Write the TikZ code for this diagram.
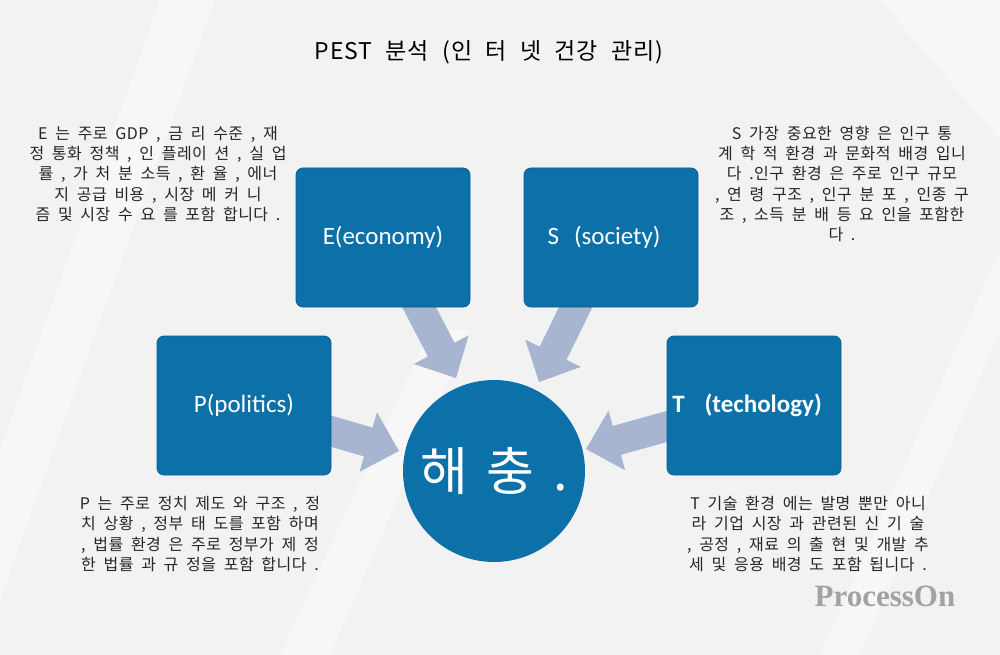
\documentclass[tikz,border=0pt]{standalone}
\usepackage{fontspec}
\setmainfont{Noto Sans CJK KR}
\newfontfamily\krfont[WordSpace=1.9,LetterSpace=3]{Noto Sans CJK KR}
\newfontfamily\titlefont[WordSpace=2.2,LetterSpace=4]{Noto Sans CJK KR}
\newfontfamily\hubfont[WordSpace=1.6]{Noto Sans CJK KR}
\newfontfamily\labfont{Carlito}
\newfontfamily\wmfont{Liberation Serif}
\usetikzlibrary{calc}
\definecolor{bgcol}{HTML}{F2F2F3}
\definecolor{boxblue}{HTML}{0C71A8}
\definecolor{boxedge}{HTML}{0A5E8E}
\definecolor{arrowcol}{HTML}{A8B5D1}
\definecolor{textcol}{HTML}{262626}
\definecolor{wmcol}{HTML}{A2A2A2}
\newcommand\blockarrow[2]{%
  \fill[arrowcol] let \p1=(#1), \p2=(#2), \n1={atan2(\y2-\y1,\x2-\x1)} in
    (\p2)
    -- ($(\p2)+(\n1+180:32pt)+(\n1+90:31pt)$)
    -- ($(\p2)+(\n1+180:32pt)+(\n1+90:15pt)$)
    -- ($(\p1)+(\n1+90:15pt)$)
    -- ($(\p1)+(\n1-90:15pt)$)
    -- ($(\p2)+(\n1+180:32pt)+(\n1-90:15pt)$)
    -- ($(\p2)+(\n1+180:32pt)+(\n1-90:31pt)$)
    -- cycle;}
\begin{document}
\begin{tikzpicture}[x=1pt,y=-1pt,
  pbox/.style={draw=boxedge, line width=0.8pt, fill=boxblue, rounded corners=7pt,
    minimum width=174pt, minimum height=139pt, inner sep=0pt, text=white,
    font=\labfont\fontsize{25}{30}\selectfont},
  hub/.style={circle, fill=boxblue, minimum size=182pt, inner sep=0pt, text=white,
    font=\hubfont\fontsize{52}{60}\selectfont},
  desc/.style={align=center, text=textcol, inner sep=0pt,
    font=\krfont\fontsize{16}{20.3}\selectfont},
  band/.style={fill=white, opacity=0.45}]
\useasboundingbox (0,0) rectangle (1000,655);
\fill[bgcol] (0,0) rectangle (1000,655);
% faint diagonal bands
\fill[band] (160,0) -- (215,0) -- (0,600) -- (0,450) -- cycle;
\fill[band] (430,330) -- (470,330) -- (330,655) -- (280,655) -- cycle;
\fill[band] (880,0) -- (1000,0) -- (1000,140) -- cycle;
\fill[band] (1000,250) -- (1000,330) -- (860,655) -- (820,655) -- cycle;

% title
\node[font=\titlefont\fontsize{23}{27}\selectfont, text=black] (title) at (489,52) {PEST 분석 (인 터 넷 건강 관리)};

% arrow anchors
\coordinate (eS) at (408,286);
\coordinate (eT) at (456,378);
\coordinate (sS) at (587,284);
\coordinate (sT) at (539,382);
\coordinate (pS) at (310,425);
\coordinate (pT) at (399,451);
\coordinate (tS) at (690,420);
\coordinate (tT) at (586,449);
\blockarrow{eS}{eT}
\blockarrow{sS}{sT}
\blockarrow{pS}{pT}
\blockarrow{tS}{tT}

% boxes
\node[pbox] (E) at (383,237.5) {E(economy)};
\node[pbox] (S) at (611,237.5) {S\hspace{0.6em}(society)\hspace*{14pt}};
\node[pbox] (P) at (244,405.5) {P(politics)};
\node[pbox, font=\labfont\bfseries\fontsize{25}{30}\selectfont] (T) at (754,405.5) {T\hspace{0.8em}(techology)\hspace*{14pt}};

% hub
\node[hub] (H) at (494,471) {해 충 .};

% descriptions
\node[desc] (Ed) at (158,174) {E 는 주로 GDP , 금 리 수준 , 재\\정 통화 정책 , 인 플레이 션 , 실 업\\률 , 가 처 분 소득 , 환 율 , 에너\\지 공급 비용 , 시장 메 커 니\\즘 및 시장 수 요 를 포함 합니다 .};
\node[desc] (Sd) at (842,184) {S 가장 중요한 영향 은 인구 통\\계 학 적 환경 과 문화적 배경 입니\\다 .인구 환경 은 주로 인구 규모\\, 연 령 구조 , 인구 분 포 , 인종 구\\조 , 소득 분 배 등 요 인을 포함한\\다 .};
\node[desc] (Pd) at (200,534) {P 는 주로 정치 제도 와 구조 , 정\\치 상황 , 정부 태 도를 포함 하며\\, 법률 환경 은 주로 정부가 제 정\\한 법률 과 규 정을 포함 합니다 .};
\node[desc] (Td) at (808,534) {T 기술 환경 에는 발명 뿐만 아니\\라 기업 시장 과 관련된 신 기 술\\, 공정 , 재료 의 출 현 및 개발 추\\세 및 응용 배경 도 포함 됩니다 .};

% watermark
\node[font=\wmfont\bfseries\fontsize{31}{36}\selectfont, text=wmcol] (wm) at (885,596) {ProcessOn};
\end{tikzpicture}
\end{document}
